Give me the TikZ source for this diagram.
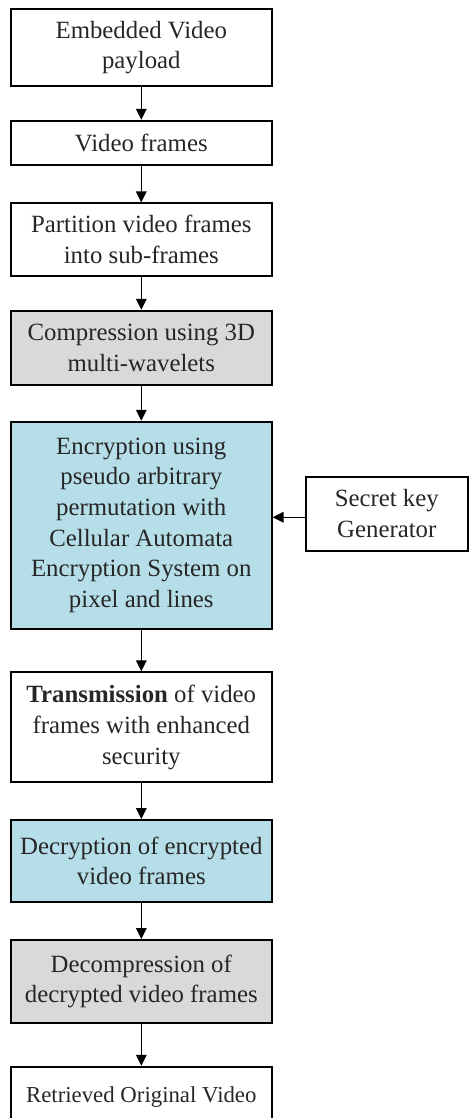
\documentclass[tikz,border=0pt]{standalone}
\usepackage{fontspec}
\setmainfont{Liberation Serif}
\usetikzlibrary{arrows.meta}
\definecolor{encblue}{RGB}{182,222,232}
\definecolor{cmpgrey}{RGB}{217,217,217}
\definecolor{txtgrey}{RGB}{38,38,38}
\begin{document}
\begin{tikzpicture}[x=1pt,y=-1pt,
  box/.style={draw=black, line width=1.8pt, minimum width=260.7pt, inner sep=0pt,
    align=center, text=txtgrey, font=\fontsize{24.8}{30.7}\selectfont},
  arr/.style={line width=1.5pt, -{Triangle[length=11pt,width=10.5pt]}}]
\useasboundingbox (0,0) rectangle (469,1118);
\clip (0,0) rectangle (469,1118);
\node[box, minimum height=76.7pt] (b1) at (141.3,47.7) {Embedded Video\\payload};
\node[box, minimum height=44pt] (b2) at (141.3,142.7) {Video frames};
\node[box, minimum height=72.7pt] (b3) at (141.3,239.7) {Partition video frames\\into sub-frames};
\node[box, fill=cmpgrey, minimum height=74.3pt] (b4) at (141.3,347.8) {Compression using 3D\\multi-wavelets};
\node[box, fill=encblue, minimum height=207.3pt] (b5) at (141.3,525.3) {Encryption using\\pseudo arbitrary\\permutation with\\Cellular Automata\\Encryption System on\\pixel and lines};
\node[box, minimum width=161.7pt, minimum height=74pt] (key) at (386.8,513.7) {Secret key\\Generator};
\node[box, minimum height=110pt] (b6) at (141.3,727.3) {\textbf{Transmission} of video\\frames with enhanced\\security};
\node[box, fill=encblue, minimum height=82pt] (b7) at (141.3,861) {Decryption of encrypted\\video frames};
\node[box, fill=cmpgrey, minimum height=82.7pt] (b8) at (141.3,981.3) {Decompression of\\decrypted video frames};
\node[box, minimum height=61.2pt, font=\fontsize{22.8}{27}\selectfont] (b9) at (141.3,1097.3) {Retrieved Original Video};
\draw[arr] (b1) -- (b2);
\draw[arr] (b2) -- (b3);
\draw[arr] (b3) -- (b4);
\draw[arr] (b4) -- (b5);
\draw[arr] (b5) -- (b6);
\draw[arr] (b6) -- (b7);
\draw[arr] (b7) -- (b8);
\draw[arr] (b8) -- (b9);
\draw[arr] ([yshift=-3.6pt]key.west) -- ([yshift=-3.6pt]key.west -| b5.east);
\end{tikzpicture}
\end{document}
